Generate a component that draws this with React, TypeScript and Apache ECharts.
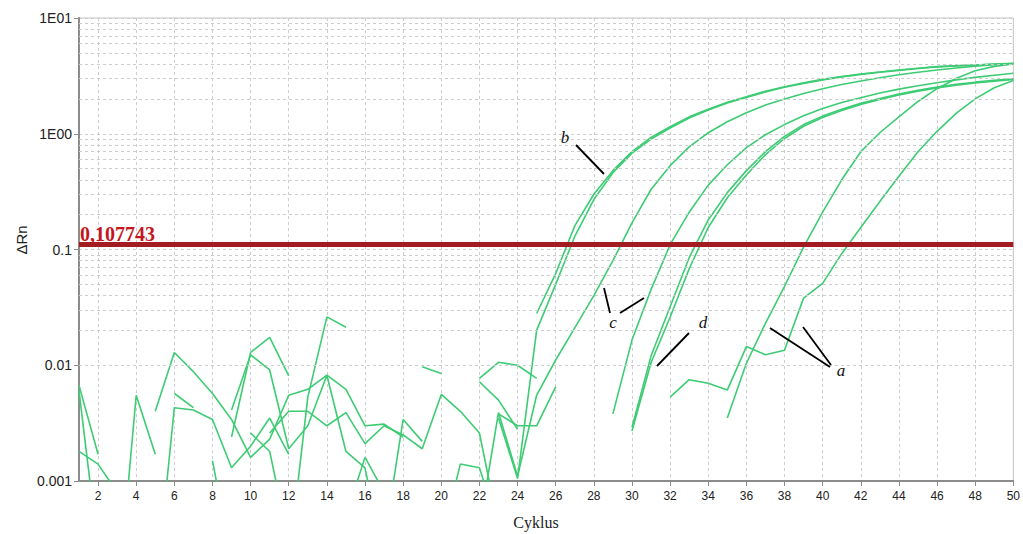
import { useEffect, useRef } from "react";
import * as echarts from "echarts";

// ---------- data ----------
const cycleLabels = [
  "1", "2", "3", "4", "5", "6", "7", "8", "9", "10",
  "11", "12", "13", "14", "15", "16", "17", "18", "19", "20",
  "21", "22", "23", "24", "25", "26", "27", "28", "29", "30",
  "31", "32", "33", "34", "35", "36", "37", "38", "39", "40",
  "41", "42", "43", "44", "45", "46", "47", "48", "49", "50",
];

const yTickValues = [0.001, 0.01, 0.1, 1, 10];
const yTickLabels = ["0.001", "0.01", "0.1", "1E00", "1E01"];
const yMinorGrid = [
  0.002, 0.003, 0.004, 0.005, 0.006, 0.007, 0.008, 0.009,
  0.02, 0.03, 0.04, 0.05, 0.06, 0.07, 0.08, 0.09,
  0.2, 0.3, 0.4, 0.5, 0.6, 0.7, 0.8, 0.9,
  2, 3, 4, 5, 6, 7, 8, 9,
];

const threshold = 0.107743;
const thresholdLabel = "0,107743";

type Pt = [number, number];

// amplification curves  [cycle, ΔRn]
const curveB1: Pt[] = [[25,0.028],[26,0.062],[27,0.16],[28,0.30],[29,0.48],[30,0.70],[31,0.93],[32,1.15],[33,1.40],[34,1.63],[35,1.87],[36,2.09],[37,2.33],[38,2.55],[39,2.75],[40,2.95],[41,3.12],[42,3.28],[43,3.42],[44,3.55],[45,3.68],[46,3.80],[47,3.87],[48,3.93],[49,4.00],[50,4.06]];
const curveB2: Pt[] = [[23,0.0035],[24,0.00105],[25,0.020],[26,0.050],[27,0.13],[28,0.27],[29,0.46],[30,0.68],[31,0.90],[32,1.12],[33,1.37],[34,1.60],[35,1.84],[36,2.06],[37,2.30],[38,2.52],[39,2.72],[40,2.92],[41,3.10],[42,3.26],[43,3.40],[44,3.53],[45,3.66],[46,3.78],[47,3.86],[48,3.92],[49,3.99],[50,4.05]];
const curveC1: Pt[] = [[22,0.0004],[23,0.0039],[24,0.0011],[25,0.0055],[26,0.0111],[27,0.021],[28,0.040],[29,0.080],[30,0.17],[31,0.33],[32,0.53],[33,0.77],[34,1.02],[35,1.27],[36,1.52],[37,1.77],[38,2.0],[39,2.23],[40,2.45],[41,2.66],[42,2.86],[43,3.05],[44,3.23],[45,3.40],[46,3.55],[47,3.70],[48,3.83],[49,3.94],[50,4.03]];
const curveC2: Pt[] = [[29,0.0038],[30,0.0165],[31,0.045],[32,0.11],[33,0.21],[34,0.36],[35,0.54],[36,0.76],[37,0.98],[38,1.2],[39,1.43],[40,1.65],[41,1.86],[42,2.05],[43,2.25],[44,2.43],[45,2.6],[46,2.76],[47,2.92],[48,3.07],[49,3.2],[50,3.33]];
const curveD1: Pt[] = [[30,0.0029],[31,0.012],[32,0.032],[33,0.085],[34,0.18],[35,0.31],[36,0.48],[37,0.70],[38,0.95],[39,1.20],[40,1.42],[41,1.63],[42,1.83],[43,2.02],[44,2.20],[45,2.37],[46,2.53],[47,2.67],[48,2.79],[49,2.89],[50,2.98]];
const curveD2: Pt[] = [[30,0.0027],[31,0.0105],[32,0.026],[33,0.068],[34,0.155],[35,0.28],[36,0.44],[37,0.66],[38,0.91],[39,1.16],[40,1.38],[41,1.59],[42,1.79],[43,1.98],[44,2.16],[45,2.33],[46,2.49],[47,2.63],[48,2.75],[49,2.85],[50,2.94]];
const curveA1: Pt[] = [[35,0.0035],[36,0.0104],[37,0.023],[38,0.048],[39,0.105],[40,0.21],[41,0.40],[42,0.70],[43,1.02],[44,1.40],[45,1.90],[46,2.45],[47,3.0],[48,3.5],[49,3.82],[50,4.0]];
const curveA2: Pt[] = [[32,0.0053],[33,0.0075],[34,0.0070],[35,0.0061],[36,0.0145],[37,0.0123],[38,0.0135],[39,0.038],[40,0.051],[41,0.092],[42,0.155],[43,0.26],[44,0.43],[45,0.70],[46,1.05],[47,1.5],[48,2.0],[49,2.5],[50,2.88]];

// baseline noise traces (values under 0.001 leave the plot)
const noise01: Pt[] = [[1,0.0067],[2,0.0017]];
const noise02: Pt[] = [[1,0.0060],[2,0.00026]];
const noise03: Pt[] = [[1,0.0018],[2,0.0014],[3,0.0008]];
const noise04: Pt[] = [[3,0.00008],[4,0.0055],[5,0.0017]];
const noise05: Pt[] = [[5,0.0040],[6,0.0129],[7,0.0088],[8,0.0057],[9,0.0034],[10,0.0016],[11,0.0023],[12,0.0055],[13,0.0062],[14,0.0082],[15,0.0062],[16,0.0030],[17,0.0031],[18,0.0024]];
const noise06: Pt[] = [[5,0.0001],[6,0.0043],[7,0.0041],[8,0.0034],[9,0.0013],[10,0.0020],[11,0.0035],[12,0.0017]];
const noise07: Pt[] = [[6,0.0057],[7,0.0043]];
const noise08: Pt[] = [[8,0.0015],[9,0.0002]];
const noise09: Pt[] = [[9,0.0024],[10,0.0129],[11,0.0174],[12,0.0081]];
const noise10: Pt[] = [[9,0.0041],[10,0.0123],[11,0.0091],[12,0.0019],[13,0.0030],[14,0.0082],[15,0.0018],[16,0.0013],[17,0.0002]];
const noise11: Pt[] = [[10,0.0026],[11,0.0018],[12,0.0003]];
const noise12: Pt[] = [[11,0.0026],[12,0.0040],[13,0.0040],[14,0.0030],[15,0.0039],[16,0.0021],[17,0.0030],[18,0.0025],[19,0.0019],[20,0.0056],[21,0.0040],[22,0.0026],[23,0.0004]];
const noise13: Pt[] = [[12,0.0002],[13,0.0053],[14,0.0262],[15,0.0213]];
const noise14: Pt[] = [[15,0.0005],[16,0.0016],[17,0.0008]];
const noise15: Pt[] = [[17,0.0003],[18,0.0034],[19,0.0022]];
const noise16: Pt[] = [[19,0.0097],[20,0.0085]];
const noise17: Pt[] = [[20,0.0003],[21,0.0014],[22,0.0013],[23,0.0004]];
const noise18: Pt[] = [[22,0.0077],[23,0.0106],[24,0.0100],[25,0.0077]];
const noise19: Pt[] = [[22,0.0072],[23,0.0050],[24,0.0028]];
const noise20: Pt[] = [[23,0.0038],[24,0.0030],[25,0.0030],[26,0.0065]];

const allCurves: Pt[][] = [
  noise01, noise02, noise03, noise04, noise05, noise06, noise07, noise08, noise09, noise10,
  noise11, noise12, noise13, noise14, noise15, noise16, noise17, noise18, noise19, noise20,
  curveB1, curveB2, curveC1, curveC2, curveD1, curveD2, curveA1, curveA2,
];

// ---------- helpers ----------
const SANS = "'Liberation Sans', Arial, sans-serif";
const SERIF = "'Liberation Serif', 'Times New Roman', serif";
const GREEN = "#3dcc74";
const GRID_COLOR = "#cdcdcd";

function toSeriesData(points: Pt[]) {
  const arr: (number | null)[] = cycleLabels.map(() => null);
  points.forEach(([c, v]) => {
    arr[c - 1] = v;
  });
  return arr;
}

const evenCycle = (i: number) => i % 2 === 1;

export default function App() {
  const ref = useRef<HTMLDivElement>(null);

  useEffect(() => {
    if (!ref.current) return;
    const chart = echarts.init(ref.current, undefined, { renderer: "svg" });

    const curveSeries = allCurves.map((pts) => ({
      type: "line" as const,
      data: toSeriesData(pts),
      showSymbol: false,
      symbol: "none",
      connectNulls: false,
      silent: true,
      z: 3,
      lineStyle: { color: GREEN, width: 1.6 },
    }));

    const annText = (t: string, x: number, y: number) => ({
      type: "text",
      x,
      y,
      z: 20,
      style: {
        text: t,
        font: `italic 17px ${SERIF}`,
        fill: "#111",
        textAlign: "center",
        textVerticalAlign: "middle",
      },
    });
    const annLine = (x1: number, y1: number, x2: number, y2: number) => ({
      type: "line",
      z: 20,
      shape: { x1, y1, x2, y2 },
      style: { stroke: "#000", lineWidth: 1.8 },
    });

    chart.setOption({
      animation: false,
      backgroundColor: "#fff",
      grid: {
        left: 79,
        right: 7.5,
        top: 18,
        bottom: 53,
        show: true,
        borderColor: "#c4c4c4",
        borderWidth: 1,
      },
      xAxis: {
        type: "category",
        data: cycleLabels,
        boundaryGap: false,
        axisLine: { lineStyle: { color: "#8c8c8c", width: 2 } },
        axisTick: {
          show: true,
          interval: evenCycle,
          length: 5,
          lineStyle: { color: "#8c8c8c" },
        },
        axisLabel: {
          interval: evenCycle,
          color: "#222",
          fontSize: 12,
          fontFamily: SANS,
          margin: 9,
        },
        splitLine: {
          show: true,
          interval: evenCycle,
          lineStyle: { color: GRID_COLOR, type: [3, 3], width: 1 },
        },
      },
      yAxis: {
        type: "log",
        logBase: 10,
        min: 0.001,
        max: 10,
        axisLine: { show: true, lineStyle: { color: "#8c8c8c", width: 2 } },
        axisTick: { show: true, length: 5, lineStyle: { color: "#8c8c8c" } },
        axisLabel: {
          color: "#222",
          fontSize: 14,
          fontFamily: SANS,
          margin: 7,
          formatter: (v: number) => {
            const e = Math.round(Math.log10(v));
            const idx = yTickValues.findIndex((t) => Math.round(Math.log10(t)) === e);
            return idx >= 0 ? yTickLabels[idx] : "";
          },
        },
        splitLine: {
          show: true,
          lineStyle: { color: GRID_COLOR, type: [3, 3], width: 1 },
        },
      },
      series: [
        {
          type: "line",
          data: cycleLabels.map(() => null),
          silent: true,
          z: 1,
          markLine: {
            silent: true,
            symbol: "none",
            animation: false,
            label: { show: false },
            lineStyle: { color: GRID_COLOR, type: [3, 3], width: 1 },
            data: yMinorGrid.map((v) => ({ yAxis: v })),
          },
        },
        ...curveSeries,
        {
          type: "line",
          data: cycleLabels.map(() => null),
          silent: true,
          z: 10,
          markLine: {
            silent: true,
            symbol: "none",
            animation: false,
            lineStyle: { color: "#a31c21", width: 5, type: "solid" },
            label: {
              show: true,
              position: "insideStartTop",
              formatter: thresholdLabel,
              color: "#c5161d",
              fontFamily: SERIF,
              fontWeight: "bold",
              fontSize: 20,
              distance: [1, 1],
            },
            data: [{ yAxis: threshold }],
          },
        },
      ],
      graphic: [
        {
          type: "text",
          x: 21,
          y: 240,
          rotation: Math.PI / 2,
          style: {
            text: "ΔRn",
            font: `15px ${SANS}`,
            fill: "#222",
            textAlign: "center",
            textVerticalAlign: "middle",
          },
        },
        {
          type: "text",
          x: 536,
          y: 522,
          style: {
            text: "Cyklus",
            font: `16px ${SERIF}`,
            fill: "#222",
            textAlign: "center",
            textVerticalAlign: "middle",
          },
        },
        annText("b", 565, 137),
        annLine(576, 145, 604, 174),
        annText("c", 613, 322),
        annLine(604, 288, 610, 313),
        annLine(620, 313, 644, 298),
        annText("d", 703, 322),
        annLine(657, 366, 689, 333),
        annText("a", 841, 370),
        annLine(770, 328, 830, 367),
        annLine(803, 327, 831, 365),
      ],
    });

    return () => chart.dispose();
  }, []);

  return (
    <div
      ref={ref}
      style={{
        position: "fixed",
        left: 0,
        top: 0,
        width: 1023,
        height: 534,
        background: "#fff",
      }}
    />
  );
}
